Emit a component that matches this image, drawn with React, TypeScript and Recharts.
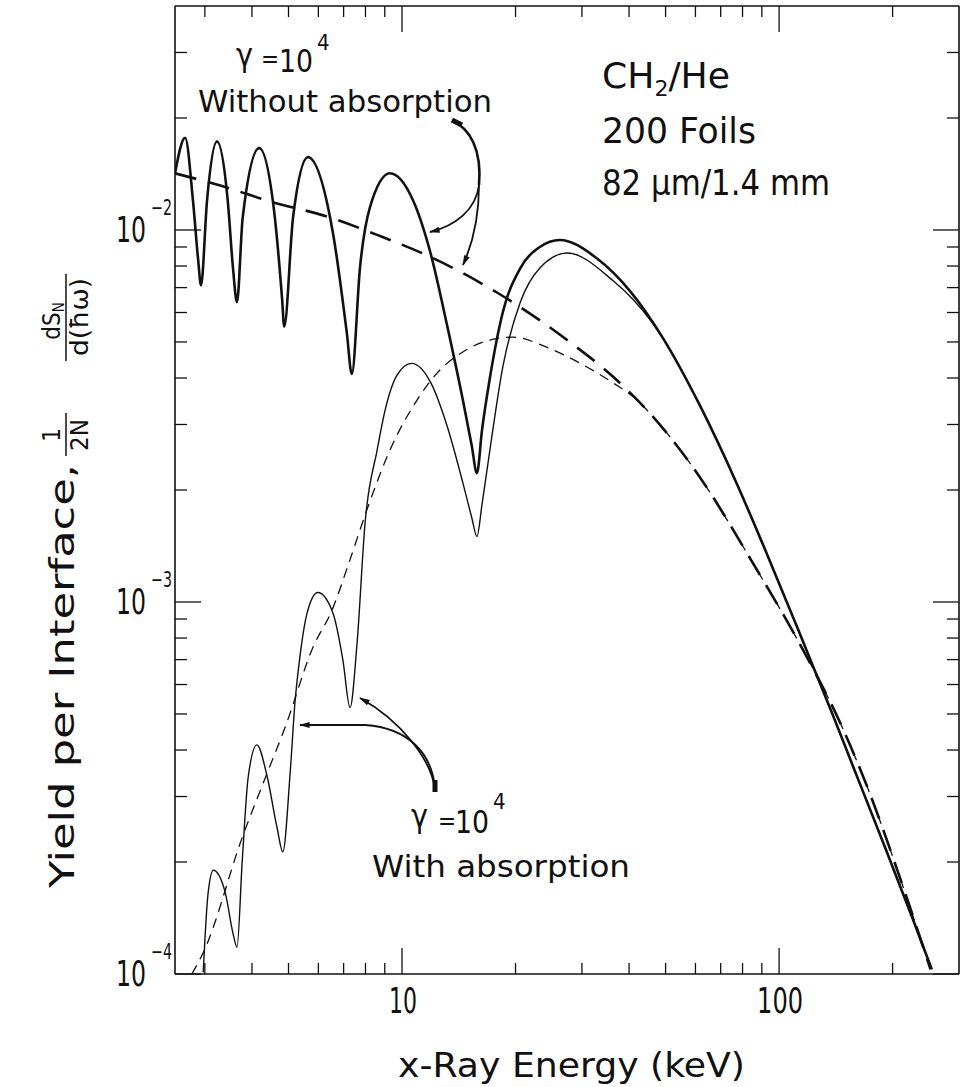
import React from "react";
import { LineChart, Line, XAxis, YAxis, ReferenceLine } from "recharts";

// photon energy in keV, yield per interface (1/2N dS/d(hw))
const energyNoAbs = [2.5, 2.66, 2.79, 2.88, 2.93, 3.04, 3.23, 3.45, 3.56, 3.65, 3.78, 4.18, 4.6, 4.81, 4.87, 5.14, 5.63, 6.56, 7.14, 7.36, 7.74, 8.22, 9.29, 10.7, 11.9, 13.2, 14.5, 15.3, 15.8, 16.3, 17.1, 18.5, 20.6, 23.2, 26.2, 32.9, 40.3, 49.2, 61.7, 77.4, 90.8, 111.7, 139, 157, 193, 226, 254];
const yieldNoAbs = [1.42e-2, 1.77e-2, 1.2e-2, 8.3e-3, 7.1e-3, 1.2e-2, 1.73e-2, 1.2e-2, 7.96e-3, 6.4e-3, 1.08e-2, 1.66e-2, 1.08e-2, 6.49e-3, 5.5e-3, 1.08e-2, 1.57e-2, 9.8e-3, 5.28e-3, 4.1e-3, 7.96e-3, 1.15e-2, 1.42e-2, 1.2e-2, 8.67e-3, 5.48e-3, 3.49e-3, 2.64e-3, 2.22e-3, 2.9e-3, 4.0e-3, 6.0e-3, 7.9e-3, 9.0e-3, 9.4e-3, 8.38e-3, 6.84e-3, 5.12e-3, 3.37e-3, 2.07e-3, 1.42e-3, 8.55e-4, 4.95e-4, 3.62e-4, 2.13e-4, 1.41e-4, 1.03e-4];

const energyAbs = [2.97, 3.06, 3.16, 3.4, 3.56, 3.65, 3.77, 3.91, 4.12, 4.39, 4.66, 4.83, 5.05, 5.2, 5.36, 5.6, 5.98, 6.56, 6.97, 7.28, 7.6, 7.98, 8.59, 9.02, 9.7, 10.6, 11.9, 13.2, 14.5, 15.3, 15.8, 16.3, 17.1, 18.5, 20.6, 23.2, 27.4, 36.3, 41, 46.3, 49.2, 61.7, 77.4, 90.8, 111.7, 139, 157, 193, 226, 254];
const yieldAbs = [1.01e-4, 1.65e-4, 1.9e-4, 1.65e-4, 1.29e-4, 1.18e-4, 2.02e-4, 3.39e-4, 4.13e-4, 3.39e-4, 2.48e-4, 2.13e-4, 3.47e-4, 5.35e-4, 7.11e-4, 9.33e-4, 1.06e-3, 9.33e-4, 6.98e-4, 5.2e-4, 7.76e-4, 1.63e-3, 2.56e-3, 3.28e-3, 4.07e-3, 4.38e-3, 3.9e-3, 2.95e-3, 2.09e-3, 1.69e-3, 1.5e-3, 1.83e-3, 2.56e-3, 4.28e-3, 6.4e-3, 7.9e-3, 8.67e-3, 7.3e-3, 6.5e-3, 5.6e-3, 5.12e-3, 3.37e-3, 2.07e-3, 1.42e-3, 8.55e-4, 4.95e-4, 3.62e-4, 2.13e-4, 1.41e-4, 1.03e-4];

// averaged (dashed) curves
const energyAvgNoAbs = [2.5, 3.35, 4.39, 6.44, 8.59, 11.9, 17.9, 27.4, 36.3, 46.4, 60.6, 85.3, 116, 145, 171, 213, 252];
const yieldAvgNoAbs = [1.42e-2, 1.31e-2, 1.2e-2, 1.08e-2, 9.7e-3, 8.46e-3, 6.78e-3, 5.06e-3, 4.03e-3, 3.14e-3, 2.22e-3, 1.27e-3, 7.4e-4, 4.75e-4, 3.2e-4, 1.72e-4, 1.03e-4];

const energyAvgAbs = [2.77, 2.97, 3.77, 4.39, 4.9, 5.81, 6.52, 7.28, 8.07, 9.29, 10.96, 12.4, 14.5, 17.1, 19.7, 24.2, 29.7, 36.3, 42, 46.4, 60.6, 85.3, 116, 145, 171, 213, 252];
const yieldAvgAbs = [1.0e-4, 1.14e-4, 2.33e-4, 3.47e-4, 4.61e-4, 7.57e-4, 9.5e-4, 1.3e-3, 1.77e-3, 2.56e-3, 3.49e-3, 4.13e-3, 4.7e-3, 5.06e-3, 5.15e-3, 4.84e-3, 4.38e-3, 3.88e-3, 3.49e-3, 3.14e-3, 2.22e-3, 1.27e-3, 7.4e-4, 4.75e-4, 3.2e-4, 1.72e-4, 1.03e-4];

const xTicks = [3, 4, 5, 6, 7, 8, 9, 10, 20, 30, 40, 50, 60, 70, 80, 90, 100, 200];
const yTicks = [
  1e-4, 2e-4, 3e-4, 4e-4, 5e-4, 6e-4, 7e-4, 8e-4, 9e-4,
  1e-3, 2e-3, 3e-3, 4e-3, 5e-3, 6e-3, 7e-3, 8e-3, 9e-3,
  1e-2, 2e-2, 3e-2,
];

const toPoints = (xs: number[], ys: number[]) => xs.map((x, i) => ({ x, y: ys[i] }));

const FONT = "'Liberation Sans Narrow', 'DejaVu Sans Condensed', 'DejaVu Sans', sans-serif";
const INK = "#111";
const TOP = 6;
const RIGHT = 959;

const isDecade = (v: number) => Math.abs(Math.log10(v) - Math.round(Math.log10(v))) < 1e-6;

const BottomTick = (props: any) => {
  const { x, y, payload } = props;
  const major = isDecade(payload.value);
  return (
    <g>
      <line x1={x} y1={y} x2={x} y2={y - (major ? 26 : 11)} stroke={INK} strokeWidth={1.3} />
      <line x1={x} y1={TOP} x2={x} y2={TOP + (major ? 26 : 11)} stroke={INK} strokeWidth={1.3} />
      {major && (
        <text x={x + 1} y={y + 39} textAnchor="middle" fontFamily={FONT} fontSize={36} fill={INK}
          textLength={payload.value >= 100 ? 46 : 28} lengthAdjust="spacingAndGlyphs">
          {payload.value}
        </text>
      )}
    </g>
  );
};

const LeftTick = (props: any) => {
  const { x, y, payload } = props;
  const major = isDecade(payload.value);
  const exp = Math.round(Math.log10(payload.value));
  return (
    <g>
      <line x1={x} y1={y} x2={x + (major ? 26 : 12)} y2={y} stroke={INK} strokeWidth={1.3} />
      <line x1={RIGHT} y1={y} x2={RIGHT - (major ? 26 : 12)} y2={y} stroke={INK} strokeWidth={1.3} />
      {major && (
        <g fontFamily={FONT} fill={INK}>
          <text x={x - 59} y={y + 12} fontSize={36} textLength={30} lengthAdjust="spacingAndGlyphs">10</text>
          <text x={x - 24} y={y - 15} fontSize={22} textLength={21} lengthAdjust="spacingAndGlyphs">{"\u2212" + Math.abs(exp)}</text>
        </g>
      )}
    </g>
  );
};

const Annotations = () => (
  <svg width={970} height={1087} style={{ position: "absolute", left: 0, top: 0, pointerEvents: "none" }}>
    <defs>
      <marker id="head" viewBox="0 0 12 8" refX={11} refY={4} markerWidth={13} markerHeight={7}
        markerUnits="userSpaceOnUse" orient="auto">
        <path d="M0,0.5 L12,4 L0,7.5 z" fill={INK} />
      </marker>
    </defs>
    <g fontFamily={FONT} fill={INK}>
      {/* upper label */}
      <text x={236} y={66} fontSize={32}>γ</text>
      <text x={261} y={67} fontSize={24}>=</text>
      <text x={279} y={72} fontSize={32} textLength={34} lengthAdjust="spacingAndGlyphs">10</text>
      <text x={317} y={50} fontSize={22}>4</text>
      <text x={198} y={112} fontSize={30} textLength={294} lengthAdjust="spacingAndGlyphs">Without absorption</text>

      {/* parameters */}
      <text x={602} y={88} fontSize={36} textLength={128} lengthAdjust="spacingAndGlyphs">
        CH<tspan fontSize={22} dy={8}>2</tspan><tspan dy={-8}>/He</tspan>
      </text>
      <text x={602} y={143} fontSize={36} textLength={154} lengthAdjust="spacingAndGlyphs">200 Foils</text>
      <text x={602} y={195} fontSize={36} textLength={228} lengthAdjust="spacingAndGlyphs">82 μm/1.4 mm</text>

      {/* lower label */}
      <text x={411} y={827} fontSize={32}>γ</text>
      <text x={438} y={829} fontSize={24}>=</text>
      <text x={455} y={833} fontSize={32} textLength={34} lengthAdjust="spacingAndGlyphs">10</text>
      <text x={493} y={809} fontSize={22}>4</text>
      <text x={372} y={877} fontSize={30} textLength={258} lengthAdjust="spacingAndGlyphs">With absorption</text>

      {/* axis titles */}
      <text x={398} y={1077} fontSize={34} textLength={347} lengthAdjust="spacingAndGlyphs">x-Ray  Energy (keV)</text>
      <g transform="rotate(-90)">
        <text x={-888} y={74} fontSize={34} textLength={424} lengthAdjust="spacingAndGlyphs">Yield per Interface,</text>
        <text x={-435} y={60} fontSize={24} textAnchor="middle">1</text>
        <line x1={-456} x2={-413} y1={66} y2={66} stroke={INK} strokeWidth={1.5} />
        <text x={-435} y={88} fontSize={24} textAnchor="middle" textLength={32} lengthAdjust="spacingAndGlyphs">2N</text>
        <text x={-321} y={60} fontSize={24} textAnchor="middle">dS<tspan fontSize={15} dy={4}>N</tspan></text>
        <line x1={-361} x2={-274} y1={66} y2={66} stroke={INK} strokeWidth={1.5} />
        <text x={-317} y={88} fontSize={24} textAnchor="middle" textLength={78} lengthAdjust="spacingAndGlyphs">d(ħω)</text>
      </g>
    </g>

    <g fill="none" stroke={INK} strokeWidth={1.8}>
      {/* upper arrows */}
      <path d="M452,121 C470,128 482,150 479,185" strokeWidth={2.6} />
      <path d="M479,185 C476,210 455,226 430,232" markerEnd="url(#head)" />
      <path d="M479,185 C479,220 472,245 463,265" markerEnd="url(#head)" />
      <path d="M452,120 L462,125" strokeWidth={5} />
      {/* lower arrows */}
      <path d="M435,790 C432,760 400,720 360,698" markerEnd="url(#head)" />
      <path d="M435,788 C432,755 410,728 365,725 L300,725" markerEnd="url(#head)" />
      <path d="M435,792 L435,780" strokeWidth={5} />
    </g>
  </svg>
);

const App: React.FC = () => {
  return (
    <div style={{ position: "absolute", left: 0, top: 0, width: 970, height: 1087, background: "#fff" }}>
      <LineChart width={970} height={1087} margin={{ top: TOP, right: 11, left: 0, bottom: 0 }}>
        <XAxis
          dataKey="x"
          type="number"
          scale="log"
          domain={[2.5, 300]}
          allowDataOverflow
          ticks={xTicks}
          interval={0}
          height={113}
          tickSize={0}
          tickMargin={0}
          tickLine={false}
          axisLine={{ stroke: INK, strokeWidth: 1.6 }}
          tick={<BottomTick />}
        />
        <YAxis
          type="number"
          scale="log"
          domain={[1e-4, 0.04]}
          allowDataOverflow
          ticks={yTicks}
          interval={0}
          width={175}
          tickSize={0}
          tickMargin={0}
          tickLine={false}
          axisLine={{ stroke: INK, strokeWidth: 1.6 }}
          tick={<LeftTick />}
        />
        <ReferenceLine y={0.04} stroke={INK} strokeWidth={1.6} />
        <ReferenceLine x={300} stroke={INK} strokeWidth={1.6} />
        <Line data={toPoints(energyAvgNoAbs, yieldAvgNoAbs)} dataKey="y" type="monotone" stroke={INK}
          strokeWidth={2.6} strokeDasharray="22 12" dot={false} isAnimationActive={false} />
        <Line data={toPoints(energyAvgAbs, yieldAvgAbs)} dataKey="y" type="monotone" stroke={INK}
          strokeWidth={1.3} strokeDasharray="10 7" dot={false} isAnimationActive={false} />
        <Line data={toPoints(energyAbs, yieldAbs)} dataKey="y" type="monotone" stroke={INK}
          strokeWidth={1.4} dot={false} isAnimationActive={false} />
        <Line data={toPoints(energyNoAbs, yieldNoAbs)} dataKey="y" type="monotone" stroke={INK}
          strokeWidth={2.6} dot={false} isAnimationActive={false} />
      </LineChart>
      <Annotations />
    </div>
  );
};

export default App;
